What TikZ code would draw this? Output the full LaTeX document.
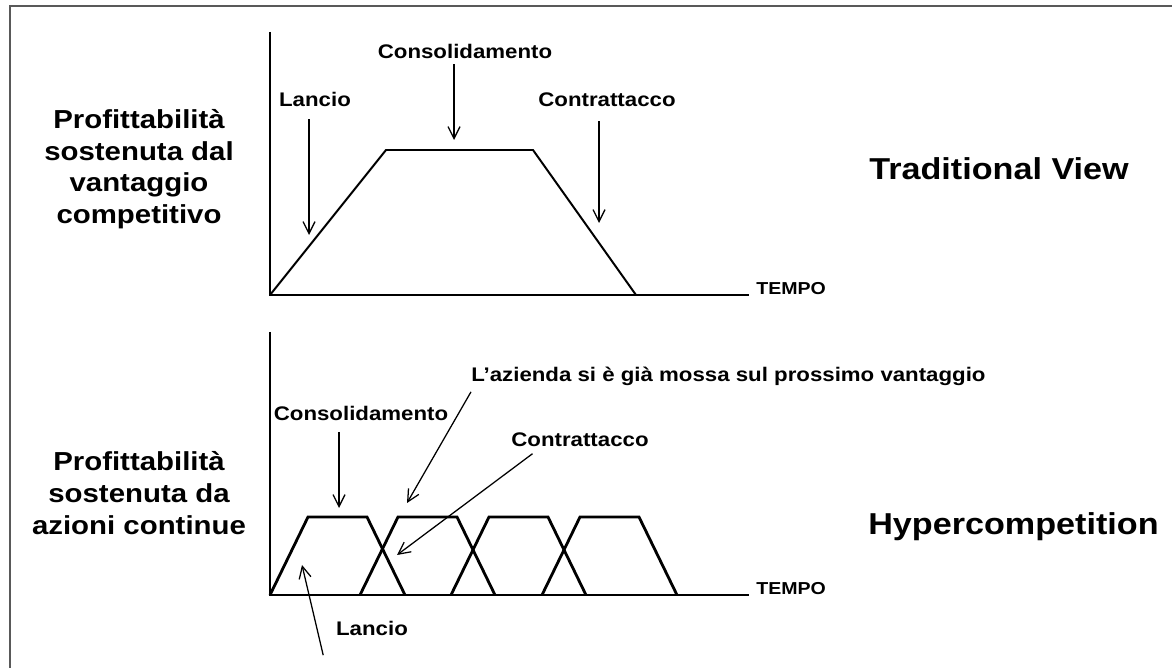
\documentclass[tikz,border=0pt]{standalone}
\usepackage{fontspec}
\setmainfont{Liberation Sans}[FakeStretch=1.13]
\usetikzlibrary{arrows.meta}

\begin{document}
\begin{tikzpicture}[x=0.025cm,y=-0.025cm,
  lbl/.style={font=\bfseries\fontsize{14}{16}\selectfont,inner sep=1pt},
  side/.style={font=\bfseries\fontsize{18.5}{22.5}\selectfont,align=center},
  head/.style={font=\bfseries\fontsize{21.5}{24}\selectfont,anchor=base west,inner sep=0pt},
  tm/.style={font=\bfseries\fontsize{12.3}{14}\selectfont,anchor=base west,inner sep=0pt,xshift=5pt},
  axis/.style={line width=1.8pt},
  curve/.style={line width=1.4pt,line join=miter},
  arr/.style={line width=0.9pt,-{Straight Barb[length=3mm,width=3mm]}}]
\useasboundingbox (0,0) rectangle (1172,668);
\draw[gray!70!black,line width=1pt] (10,668) -- (10,6) -- (1172,6);

% traditional view
\coordinate (o1) at (270,295);
\coordinate (y1) at (270,32);
\coordinate (x1) at (749,295);
\draw[axis] (y1) -- (o1) -- (x1);
\node (t1) at (x1) [tm] {TEMPO};
\draw[curve] (o1) -- (386,150) -- (533,150) -- (636,295);
\node (s1) at (139,169) [side] {Profittabilità\\sostenuta dal\\vantaggio\\competitivo};
\node (h1) at (869,180) [head] {Traditional View};
\node (lan1) at (315,99) [lbl] {Lancio};
\node (con1) at (465,51) [lbl] {Consolidamento};
\node (ctr1) at (607,100) [lbl] {Contrattacco};
\coordinate (lan1e) at (309,235);
\coordinate (con1e) at (454,140);
\coordinate (ctr1e) at (599,223);
\draw[arr,shorten <=8pt] (lan1e |- lan1.south) -- (lan1e);
\draw[arr,shorten <=3pt] (con1e |- con1.south) -- (con1e);
\draw[arr,shorten <=9pt] (ctr1e |- ctr1.south) -- (ctr1e);

% hypercompetition
\coordinate (o2) at (270,595);
\coordinate (y2) at (270,332);
\coordinate (x2) at (749,595);
\draw[axis] (y2) -- (o2) -- (x2);
\node (t2) at (x2) [tm] {TEMPO};
\foreach \s in {270,360,451,542}
  \draw[curve,line width=2pt] (\s,595) -- ++(38,-78) -- ++(59,0) -- (\s+135,595);
\node (s2) at (139,493) [side] {Profittabilità\\sostenuta da\\azioni continue};
\node (h2) at (868,535) [head] {Hypercompetition};
\node (con2) at (361,413) [lbl] {Consolidamento};
\node (az) at (471,382) [lbl,anchor=base west,inner sep=0pt] {L’azienda si è già mossa sul prossimo vantaggio};
\node (ctr2) at (580,440) [lbl] {Contrattacco};
\node (lan2) at (372,628) [lbl] {Lancio};
\coordinate (con2e) at (339,508);
\coordinate (aze) at (407,503);
\coordinate (ctr2e) at (397,555);
\coordinate (lan2e) at (302,565);
\draw[arr,shorten <=7pt] (con2e |- con2.south) -- (con2e);
\draw[arr] ([yshift=-7pt]az.base west) -- (aze);
\draw[arr,shorten <=6pt] (ctr2.-168) -- (ctr2e);
\draw[arr] ([xshift=-8pt,yshift=-13pt]lan2.south west) -- (lan2e);
\end{tikzpicture}
\end{document}
